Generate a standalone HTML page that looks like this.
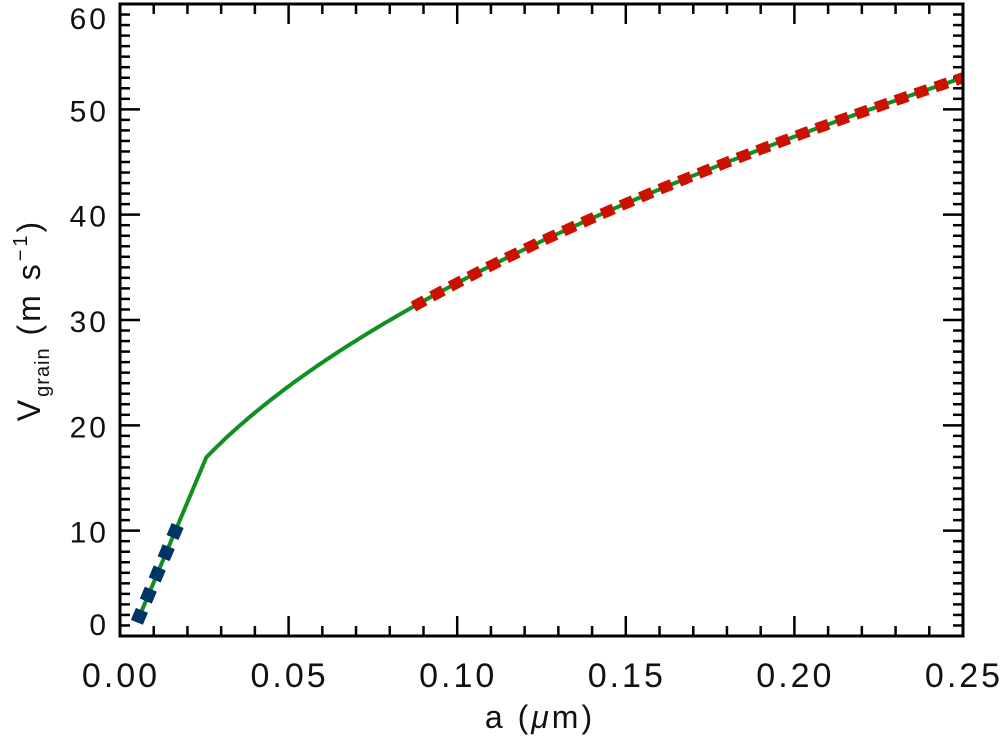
<!DOCTYPE html>
<html><head><meta charset="utf-8"><style>
html,body{margin:0;padding:0;background:#fff;}
svg{display:block;font-family:"Liberation Sans","DejaVu Sans",sans-serif;}
</style></head><body>
<svg id="s" width="1001" height="740" viewBox="0 0 1001 740" xmlns="http://www.w3.org/2000/svg">
<rect x="0" y="0" width="1001" height="740" fill="#fff"/>
<g id="ticks" stroke="#000" stroke-width="2.5"></g>
<g id="labels" fill="#111"></g>
<polyline id="green" fill="none" stroke="#109020" stroke-width="4" stroke-linejoin="round"/>
<polyline id="red" fill="none" stroke="#cc1100" stroke-width="11" stroke-dasharray="13,8"/>
<polyline id="blue" fill="none" stroke="#003366" stroke-width="13" stroke-dasharray="13,10"/>
<rect x="120" y="4" width="843" height="632" fill="none" stroke="#000" stroke-width="3"/>
<text x="540" y="728" font-size="32" letter-spacing="3" text-anchor="middle" fill="#111">a (<tspan font-style="italic">μ</tspan>m)</text>
<text transform="translate(40,320) rotate(-90)" font-size="32" letter-spacing="3" text-anchor="middle" fill="#111">V<tspan font-size="20" letter-spacing="1" dy="9">grain</tspan><tspan dy="-9"> (m s</tspan><tspan font-size="20" dy="-13">−1</tspan><tspan dy="13">)</tspan></text>
</svg>
<script>
const L=120,R=963,T=4,B=636;
const X=a=>L+(a/0.25)*(R-L), Y=v=>B-(v/60)*(B-T);
const tk=document.getElementById('ticks'), lb=document.getElementById('labels');
let h='',t='';
for(let i=0;i<=25;i++){const x=X(i*0.01);const len=(i%5==0)?20:10;
 h+=`<line x1="${x}" y1="${B}" x2="${x}" y2="${B-len}"/><line x1="${x}" y1="${T}" x2="${x}" y2="${T+len}"/>`;
 if(i%5==0)t+=`<text x="${x+1}" y="687" font-size="34" letter-spacing="3" text-anchor="middle">${(i*0.01).toFixed(2)}</text>`;}
for(let i=0;i<=60;i++){const y=Y(i);const len=(i%10==0)?20:10;
 h+=`<line x1="${L}" y1="${y}" x2="${L+len}" y2="${y}"/><line x1="${R}" y1="${y}" x2="${R-len}" y2="${y}"/>`;
 if(i%10==0)t+=`<text x="109" y="${i==0?635:Math.max(y+12,29)}" font-size="30" letter-spacing="3" text-anchor="end">${i}</text>`;}
tk.innerHTML=h;lb.innerHTML=t;
const f=a=>a<0.0256?1.3+(a-0.005)/(0.0256-0.005)*(16.96-1.3):106*Math.sqrt(a);
function pts(a0,a1,n){let p=[];for(let i=0;i<=n;i++){const a=a0+(a1-a0)*i/n;p.push(X(a).toFixed(1)+','+Y(f(a)).toFixed(1));}return p.join(' ');}
document.getElementById('green').setAttribute('points',pts(0.005,0.0256,2)+' '+pts(0.0256,0.25,200));
document.getElementById('red').setAttribute('points',pts(0.087,0.25,150));
document.getElementById('blue').setAttribute('points',pts(0.005,0.0178,20));
</script>
</body></html>
